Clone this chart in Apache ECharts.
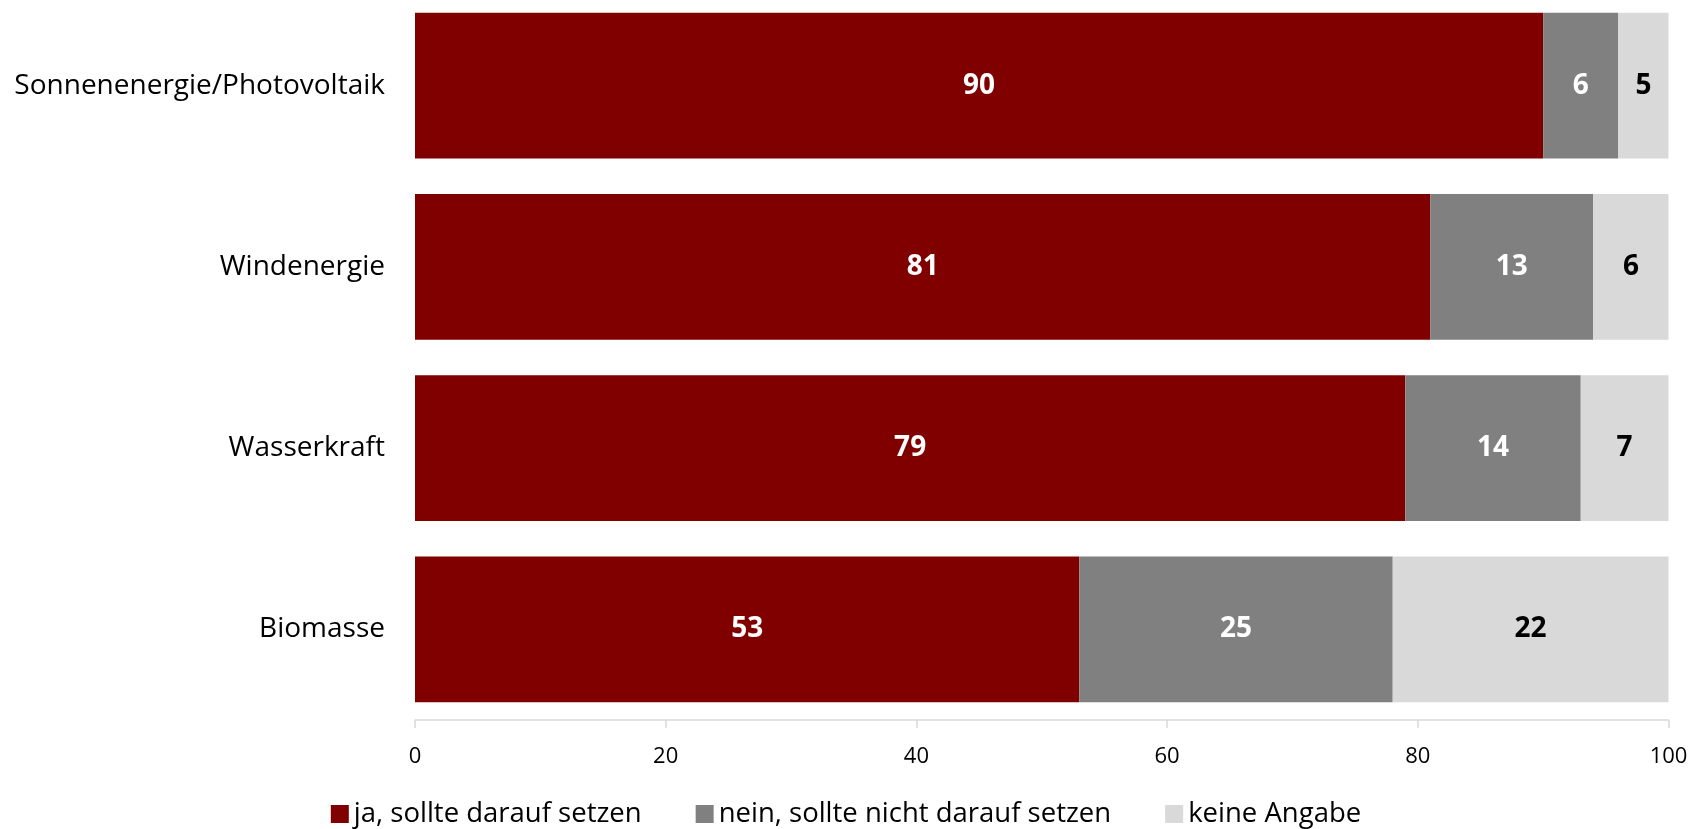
<!DOCTYPE html>
<html>
<head>
<meta charset="utf-8">
<script src="https://cdn.jsdelivr.net/npm/echarts@6/dist/echarts.min.js"></script>
<style>html,body{margin:0;padding:0;background:#fff}#c{width:1692px;height:829px}</style>
</head>
<body>
<div id="c"></div>
<script>
const categories = ["Sonnenenergie/Photovoltaik", "Windenergie", "Wasserkraft", "Biomasse"];
const seriesNames = ["ja, sollte darauf setzen", "nein, sollte nicht darauf setzen", "keine Angabe"];
const jaValues = [90, 81, 79, 53];
const neinValues = [6, 13, 14, 25];
const keineValues = [5, 6, 7, 22];
const xTicks = [0, 20, 40, 60, 80, 100];

const FONT = "Open Sans";
const colors = ["#800000", "#808080", "#D9D9D9"];
const labelColors = ["#ffffff", "#ffffff", "#000000"];
const data = [jaValues, neinValues, keineValues];

const chart = echarts.init(document.getElementById('c'), null, {renderer: 'canvas'});
chart.setOption({
  animation: false,
  textStyle: {fontFamily: FONT},
  grid: {left: 415, right: 23.5, top: -5, bottom: 109, containLabel: false, outerBoundsMode: 'none'},
  legend: {
    top: 795,
    left: 'center',
    itemWidth: 18,
    itemHeight: 18,
    itemGap: 54,
    icon: 'rect',
    textStyle: {fontFamily: FONT, fontSize: 27.5, color: '#000'},
    data: seriesNames
  },
  xAxis: {
    type: 'value',
    min: xTicks[0],
    max: xTicks[xTicks.length - 1],
    interval: 20,
    axisLine: {show: true, lineStyle: {color: '#D9D9D9', width: 1.5}},
    axisTick: {show: true, length: 8, lineStyle: {color: '#D9D9D9', width: 1.5}},
    axisLabel: {fontFamily: FONT, fontSize: 22, color: '#000', margin: 26},
    splitLine: {show: false}
  },
  yAxis: {
    type: 'category',
    inverse: true,
    data: categories,
    axisLine: {show: false},
    axisTick: {show: false},
    axisLabel: {fontFamily: FONT, fontSize: 28, color: '#000', margin: 30}
  },
  series: seriesNames.map((name, i) => ({
    name: name,
    type: 'bar',
    stack: 'total',
    barCategoryGap: '19.7%',
    data: data[i],
    itemStyle: {color: colors[i]},
    label: {
      show: true,
      position: 'inside',
      fontFamily: FONT,
      fontWeight: 'bold',
      fontSize: 28,
      color: labelColors[i]
    }
  }))
});
</script>
</body>
</html>
